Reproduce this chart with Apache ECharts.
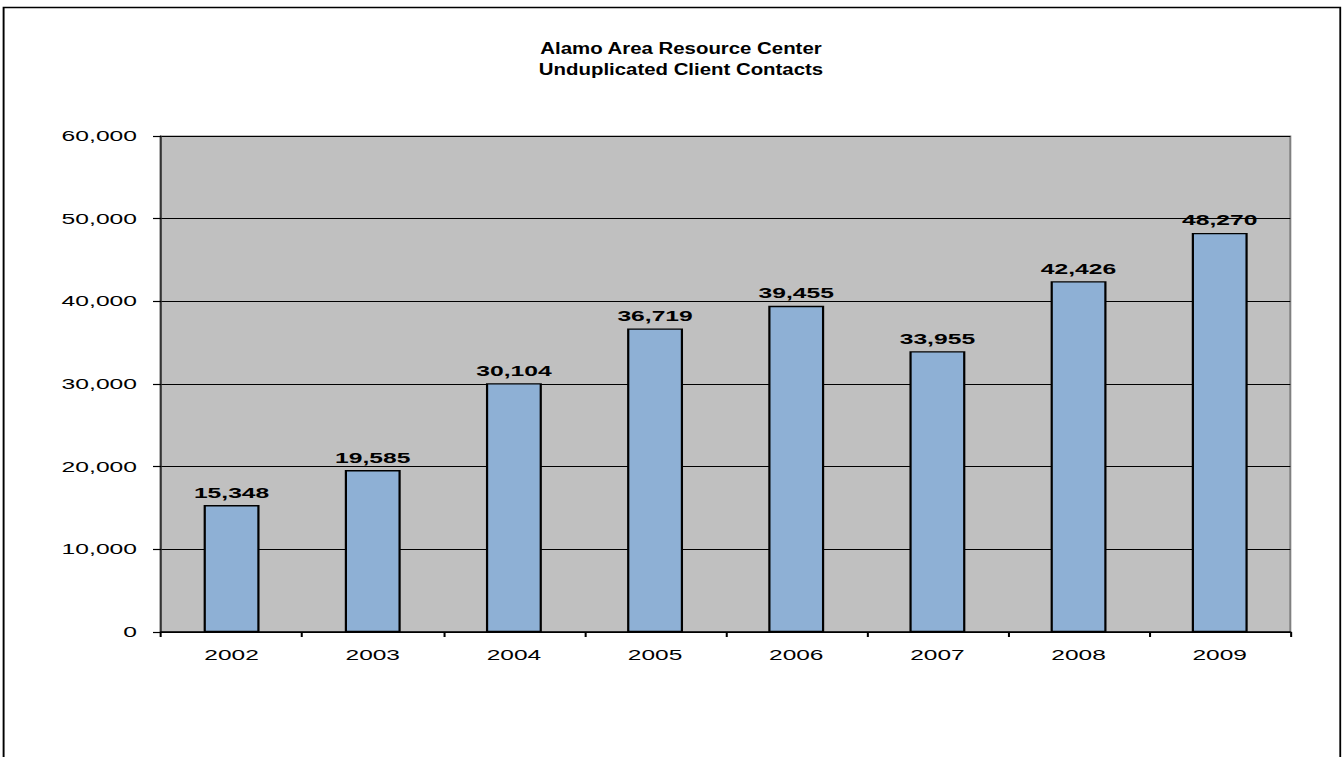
<!DOCTYPE html>
<html><head><meta charset="utf-8">
<script src="https://cdn.jsdelivr.net/npm/echarts@6/dist/echarts.min.js"></script>
<style>
html,body{margin:0;padding:0;background:#fff;overflow:hidden}
#wrap{position:relative;width:1342px;height:757px}
#c{position:absolute;left:0;top:0;width:789.41px;height:757px;transform:scaleX(1.7);transform-origin:0 0}
#t{position:absolute;left:0;top:0;width:1118.33px;height:757px;transform:scaleX(1.2);transform-origin:0 0;pointer-events:none}
</style>
</head><body><div id="wrap"><div id="c"></div><div id="t"></div></div>
<script>
const categories = ['2002','2003','2004','2005','2006','2007','2008','2009'];
const contacts = [15348, 19585, 30104, 36719, 39455, 33955, 42426, 48270];
const titleLines = ['Alamo Area Resource Center', 'Unduplicated Client Contacts'];
const yTicks = { min: 0, max: 60000, interval: 10000 };

const SX = 1.7;   // horizontal stretch of the plot layer
const TX = 1.2;   // horizontal stretch of the title layer
const fmt = v => Number(v).toLocaleString('en-US');
const font = 'Liberation Sans, Arial, sans-serif';

const chart = echarts.init(document.getElementById('c'), null, { renderer: 'svg' });
chart.setOption({
  animation: false,
  backgroundColor: '#fff',
  grid: { left: 161 / SX, top: 136, right: 51 / SX, bottom: 125, show: true,
    backgroundColor: '#c0c0c0', borderColor: '#808080', borderWidth: 1.2 },
  xAxis: {
    type: 'category', data: categories,
    axisLine: { lineStyle: { color: '#000', width: 1.5 } },
    axisTick: { show: true, length: 5, lineStyle: { color: '#000', width: 1.2 } },
    axisLabel: { color: '#000', fontFamily: font, fontSize: 14.4, margin: 16 }
  },
  yAxis: {
    type: 'value', min: yTicks.min, max: yTicks.max, interval: yTicks.interval,
    axisLine: { show: true, lineStyle: { color: '#333', width: 1.2 } },
    axisTick: { show: true, inside: false, length: 8 / SX, lineStyle: { color: '#000', width: 1.2 } },
    splitLine: { lineStyle: { color: '#000', width: 1 } },
    axisLabel: { color: '#000', fontFamily: font, fontSize: 14.5, margin: 24 / SX, formatter: fmt }
  },
  series: [{
    type: 'bar', data: contacts, barWidth: '39.6%',
    itemStyle: { color: '#8eb0d5', borderColor: '#000', borderWidth: 1.3 },
    label: { show: true, position: 'top', distance: 5, color: '#000', fontFamily: font,
      fontWeight: 'bold', fontSize: 14.5, formatter: p => fmt(p.value) }
  }]
});

const tchart = echarts.init(document.getElementById('t'), null, { renderer: 'svg' });
tchart.setOption({
  animation: false,
  title: {
    text: titleLines.join('\n'),
    left: 675 / TX, top: 33, textAlign: 'center',
    textStyle: { fontFamily: font, fontWeight: 'bold', fontSize: 17, lineHeight: 21, color: '#000' }
  },
  graphic: [{
    type: 'rect', shape: { x: 3.6 / TX, y: 7.5, width: (1340.3 - 3.6) / TX, height: 770 },
    style: { fill: null, stroke: '#000', lineWidth: 1.6 }, silent: true
  }]
});
</script></body></html>
